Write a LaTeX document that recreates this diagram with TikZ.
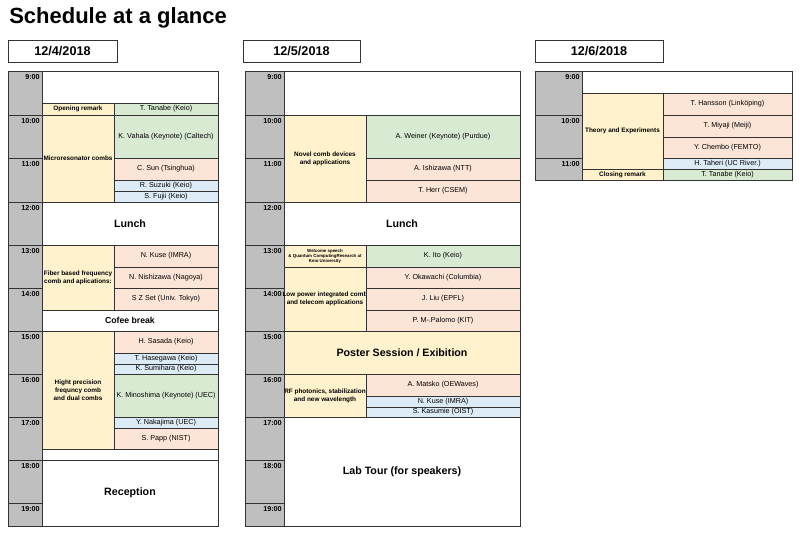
\documentclass[tikz,border=0pt]{standalone}
\usepackage{fontspec}
\setmainfont{Liberation Sans}
\definecolor{yl}{HTML}{FFF2CC}
\definecolor{gr}{HTML}{D9EAD3}
\definecolor{pc}{HTML}{FCE4D6}
\definecolor{bl}{HTML}{DDEBF7}
\definecolor{gy}{HTML}{BFBFBF}
\tikzset{cellbox/.style={draw=black!80,line width=0.6pt},
 ctext/.style={font=\fontsize{5.4}{6}\selectfont,align=center,inner sep=0pt},
 btext/.style={font=\bfseries\fontsize{4.8}{5.8}\selectfont,align=center,inner sep=0pt},
 big/.style={font=\bfseries\fontsize{8}{9}\selectfont,inner sep=0pt},
 hdr/.style={font=\bfseries\fontsize{9.5}{10}\selectfont,inner sep=0pt},
 tlab/.style={font=\bfseries\fontsize{5.4}{6}\selectfont,anchor=north east,inner sep=0pt}}
\newcommand\bx[8]{\draw[cellbox,fill=#1] (#3,#4) rectangle (#5,#6);
 \node[#7] (#2) at ({(#3+#5)/2},{(#4+#6)/2}) {#8};}
\begin{document}
\begin{tikzpicture}[x=0.75pt,y=-0.75pt]
\useasboundingbox (0,0) rectangle (800,534);
\node[anchor=west,font=\bfseries\fontsize{16.5}{18}\selectfont,inner sep=0pt] (title) at (9,18) {Schedule at a glance};
\bx{white}{h1}{8}{40}{117}{62}{hdr}{12/4/2018}
\bx{white}{h2}{243}{40}{360}{62}{hdr}{12/5/2018}
\bx{white}{h3}{535}{40}{663}{62}{hdr}{12/6/2018}
\foreach \a/\b/\t [count=\i] in {71/115/9:00,115/158/10:00,158/202/11:00,202/245/12:00,245/288/13:00,288/331/14:00,331/374/15:00,374/417/16:00,417/460/17:00,460/503/18:00,503/526/19:00}{
 \draw[cellbox,fill=gy] (8,\a) rectangle (42,\b);
 \node[tlab] (ta\i) at (40,\a+3) {\t};
 \draw[cellbox,fill=gy] (245,\a) rectangle (284,\b);
 \node[tlab] (tb\i) at (282,\a+3) {\t};}
\foreach \a/\b/\t [count=\i] in {71/115/9:00,115/158/10:00,158/180/11:00}{
 \draw[cellbox,fill=gy] (535,\a) rectangle (582,\b);
 \node[tlab] (tc\i) at (580,\a+3) {\t};}
% Day 1
\bx{white}{a0}{42}{71}{218}{103}{ctext}{}
\bx{yl}{a1}{42}{103}{114}{115}{btext}{Opening remark}
\bx{gr}{a2}{114}{103}{218}{115}{ctext}{T. Tanabe (Keio)}
\bx{yl}{a3}{42}{115}{114}{202}{btext}{Microresonator combs}
\bx{gr}{a4}{114}{115}{218}{158}{ctext}{K. Vahala (Keynote) (Caltech)}
\bx{pc}{a5}{114}{158}{218}{180}{ctext}{C. Sun (Tsinghua)}
\bx{bl}{a6}{114}{180}{218}{191}{ctext}{R. Suzuki (Keio)}
\bx{bl}{a7}{114}{191}{218}{202}{ctext}{S. Fujii (Keio)}
\bx{white}{a8}{42}{202}{218}{245}{big}{Lunch}
\bx{yl}{a9}{42}{245}{114}{310}{btext}{Fiber based frequency\\comb and aplications:}
\bx{pc}{a10}{114}{245}{218}{267}{ctext}{N. Kuse (IMRA)}
\bx{pc}{a11}{114}{267}{218}{288}{ctext}{N. Nishizawa (Nagoya)}
\bx{pc}{a12}{114}{288}{218}{310}{ctext}{S Z Set (Univ. Tokyo)}
\bx{white}{a13}{42}{310}{218}{331}{btext,font=\bfseries\fontsize{6.5}{7}\selectfont}{Cofee break}
\bx{yl}{a14}{42}{331}{114}{449}{btext}{Hight precision\\frequncy comb\\and dual combs}
\bx{pc}{a15}{114}{331}{218}{353}{ctext}{H. Sasada (Keio)}
\bx{bl}{a16}{114}{353}{218}{364}{ctext}{T. Hasegawa (Keio)}
\bx{bl}{a17}{114}{364}{218}{374}{ctext}{K. Sumihara (Keio)}
\bx{gr}{a18}{114}{374}{218}{417}{ctext}{K. Minoshima (Keynote) (UEC)}
\bx{bl}{a19}{114}{417}{218}{428}{ctext}{Y. Nakajima (UEC)}
\bx{pc}{a20}{114}{428}{218}{449}{ctext}{S. Papp (NIST)}
\bx{white}{a21}{42}{449}{218}{460}{ctext}{}
\bx{white}{a22}{42}{460}{218}{526}{big}{Reception}
% Day 2
\bx{white}{b0}{284}{71}{520}{115}{ctext}{}
\bx{yl}{b1}{284}{115}{366}{202}{btext}{Novel comb devices\\and applications}
\bx{gr}{b2}{366}{115}{520}{158}{ctext}{A. Weiner (Keynote) (Purdue)}
\bx{pc}{b3}{366}{158}{520}{180}{ctext}{A. Ishizawa (NTT)}
\bx{pc}{b4}{366}{180}{520}{202}{ctext}{T. Herr (CSEM)}
\bx{white}{b5}{284}{202}{520}{245}{big}{Lunch}
\bx{yl}{b6}{284}{245}{366}{267}{btext,font=\bfseries\fontsize{3.3}{3.8}\selectfont}{Welcome speech\\\& Quantum ComputingResearch at\\Keio University}
\bx{gr}{b7}{366}{245}{520}{267}{ctext}{K. Ito (Keio)}
\bx{yl}{b8}{284}{267}{366}{331}{btext}{Low power integrated comb\\and telecom applications}
\bx{pc}{b9}{366}{267}{520}{288}{ctext}{Y. Okawachi (Columbia)}
\bx{pc}{b10}{366}{288}{520}{310}{ctext}{J. Liu (EPFL)}
\bx{pc}{b11}{366}{310}{520}{331}{ctext}{P. M-.Palomo (KIT)}
\bx{yl}{b12}{284}{331}{520}{374}{big}{Poster Session / Exibition}
\bx{yl}{b13}{284}{374}{366}{417}{btext}{RF photonics, stabilization\\and new wavelength}
\bx{pc}{b14}{366}{374}{520}{396}{ctext}{A. Matsko (OEWaves)}
\bx{bl}{b15}{366}{396}{520}{407}{ctext}{N. Kuse (IMRA)}
\bx{bl}{b16}{366}{407}{520}{417}{ctext}{S. Kasumie (OIST)}
\bx{white}{b17}{284}{417}{520}{526}{big}{Lab Tour (for speakers)}
% Day 3
\bx{white}{c0}{582}{71}{792}{93}{ctext}{}
\bx{yl}{c1}{582}{93}{663}{169}{btext}{Theory and Experiments}
\bx{pc}{c2}{663}{93}{792}{115}{ctext}{T. Hansson (Linköping)}
\bx{pc}{c3}{663}{115}{792}{137}{ctext}{T. Miyaji (Meiji)}
\bx{pc}{c4}{663}{137}{792}{158}{ctext}{Y. Chembo (FEMTO)}
\bx{bl}{c5}{663}{158}{792}{169}{ctext}{H. Taheri (UC River.)}
\bx{yl}{c6}{582}{169}{663}{180}{btext}{Closing remark}
\bx{gr}{c7}{663}{169}{792}{180}{ctext}{T. Tanabe (Keio)}
\end{tikzpicture}
\end{document}
